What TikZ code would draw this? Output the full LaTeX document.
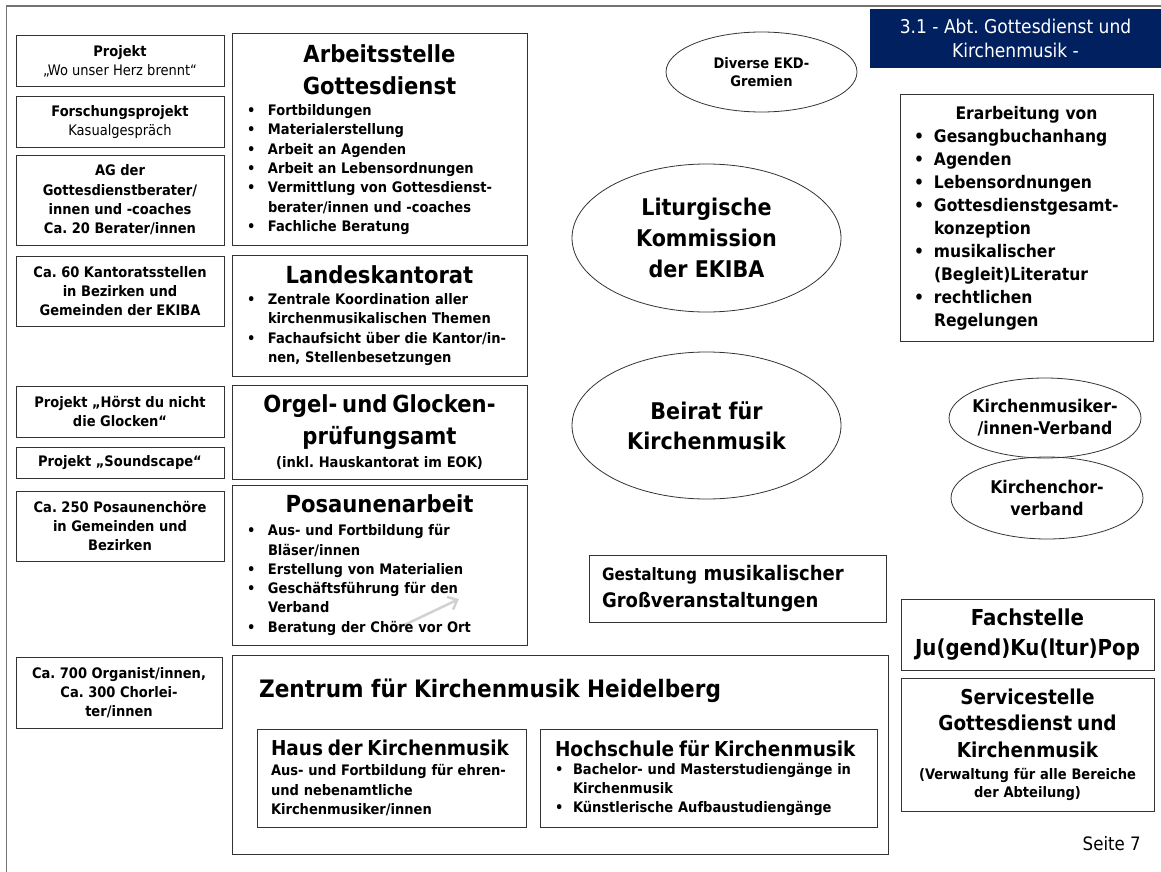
\documentclass[tikz,border=0pt]{standalone}
\usepackage{fontspec}
\setmainfont{DejaVu Sans Condensed}
\usetikzlibrary{shapes.geometric, arrows.meta}
\setlength{\parindent}{0pt}
\frenchspacing
\definecolor{abtblue}{HTML}{002060}
\newcommand{\fbody}{\fontsize{14.5}{19.3}\selectfont\bfseries}
\newcommand{\ftitle}{\fontsize{23.5}{32}\selectfont\bfseries}
\newcommand{\bl}[2][21pt]{\makebox[#1][l]{\textbullet}#2}
\newcommand{\blcont}[1][21pt]{\hspace*{#1}}
\begin{document}
\begin{tikzpicture}[x=1pt, y=-1pt]
  % Define styles
  \tikzstyle{box} = [rectangle, draw=black!80, line width=1pt, inner sep=0pt, font=\fbody, align=center]
  \tikzstyle{oval} = [ellipse, draw=black!80, line width=0.8pt, inner sep=-8pt, align=center]
  \tikzstyle{banner} = [rectangle, fill=abtblue, text=white, inner sep=0pt, align=center, font=\fontsize{19}{24}\selectfont]
  \tikzstyle{frame} = [black!55, line width=1.5pt]
  \tikzstyle{arrow} = [black!18, line width=2.5pt, -{Straight Barb[length=8pt, width=14pt]}]

  \useasboundingbox (0,0) rectangle (1161,872);

  % Page frame
  \coordinate (frtr) at (1161,6);
  \coordinate (frtl) at (6.5,6);
  \coordinate (frbl) at (6.5,872);
  \draw[frame] (frtr) -- (frtl) -- (frbl);

  % Stray arrow
  \coordinate (arrtail) at (398,628);
  \coordinate (arrtip) at (459,599);
  \draw[arrow] (arrtail) -- (arrtip);

  % Left column: projects and groups
  \node[box, minimum width=208pt, minimum height=51pt] (wuhb) at (120,61.5) {Projekt\\\textmd{„Wo unser Herz brennt“}};
  \node[box, minimum width=208pt, minimum height=50pt] (kasual) at (120,122) {Forschungsprojekt\\\textmd{Kasualgespräch}};
  \node[box, minimum width=208pt, minimum height=90pt] (agber) at (120,200) {AG der\\Gottesdienstberater/\\innen und -coaches\\Ca. 20 Berater/innen};
  \node[box, minimum width=208pt, minimum height=70pt] (kantst) at (120,291) {Ca. 60 Kantoratsstellen\\in Bezirken und\\Gemeinden der EKIBA};
  \node[box, minimum width=208pt, minimum height=51pt] (hoerst) at (120,411.5) {Projekt „Hörst du nicht\\die Glocken“};
  \node[box, minimum width=208pt, minimum height=31pt] (sound) at (120,462.5) {Projekt „Soundscape“};
  \node[box, minimum width=208pt, minimum height=70pt] (posch) at (120,526) {Ca. 250 Posaunenchöre\\in Gemeinden und\\Bezirken};
  \node[box, minimum width=206pt, minimum height=71pt] (organ) at (119,692.5) {Ca. 700 Organist/innen,\\Ca. 300 Chorlei-\\ter/innen};

  % Middle column: offices
  \node[box, minimum width=295pt, minimum height=211pt, text width=265pt, align=left] (agd) at (379.5,139.5)
    {{\ftitle\centering Arbeitsstelle\\Gottesdienst\par}\vspace{2pt}
     \bl{Fortbildungen}\\ \bl{Materialerstellung}\\ \bl{Arbeit an Agenden}\\ \bl{Arbeit an Lebensordnungen}\\
     \bl{Vermittlung von Gottesdienst-}\\ \blcont berater/innen und -coaches\\ \bl{Fachliche Beratung}};
  \node[box, minimum width=295pt, minimum height=121pt, text width=265pt, align=left] (landes) at (379.5,315.5)
    {{\ftitle\centering Landeskantorat\par}\vspace{2pt}
     \bl{Zentrale Koordination aller}\\ \blcont kirchenmusikalischen Themen\\
     \bl{Fachaufsicht über die Kantor/in-}\\ \blcont nen, Stellenbesetzungen};
  \node[box, minimum width=295pt, minimum height=94pt, text width=265pt] (orgel) at (379.5,432)
    {{\ftitle Orgel- und Glocken-\\prüfungsamt\par}\vspace{4pt}(inkl. Hauskantorat im EOK)};
  \node[box, minimum width=295pt, minimum height=160pt, text width=265pt, align=left] (posaune) at (379.5,565)
    {{\ftitle\centering Posaunenarbeit\par}\vspace{4pt}
     \bl{Aus- und Fortbildung für}\\ \blcont Bläser/innen\\ \bl{Erstellung von Materialien}\\
     \bl{Geschäftsführung für den}\\ \blcont Verband\\ \bl{Beratung der Chöre vor Ort}};

  % Zentrum Heidelberg
  \node[box, minimum width=656pt, minimum height=199pt] (zkm) at (560,754.5) {};
  \node[anchor=base west, inner sep=0pt, font=\fontsize{24}{28}\selectfont\bfseries] (zkmtitle) at (259,697) {Zentrum für Kirchenmusik Heidelberg};
  \node[box, minimum width=269pt, minimum height=98pt, text width=241pt, align=left] (hdk) at (391.5,778)
    {{\fontsize{20.5}{26}\selectfont Haus der Kirchenmusik\par}\vspace{1pt}
     \fontsize{14.5}{19.5}\selectfont Aus- und Fortbildung für ehren-\\und nebenamtliche\\Kirchenmusiker/innen};
  \node[box, minimum width=337pt, minimum height=98pt, text width=307pt, align=left] (hfk) at (708.5,778)
    {{\fontsize{20.5}{26}\selectfont Hochschule für Kirchenmusik\par}
     \fontsize{14.5}{18.5}\selectfont \bl[18pt]{Bachelor- und Masterstudiengänge in}\\ \blcont[18pt]Kirchenmusik\\
     \bl[18pt]{Künstlerische Aufbaustudiengänge}};

  % Committees
  \node[oval, minimum width=191pt, minimum height=80pt, font=\fontsize{14.5}{18.5}\selectfont\bfseries] (ekd) at (761.5,72) {Diverse EKD-\\Gremien};
  \node[oval, minimum width=269pt, minimum height=148pt, font=\fontsize{23}{31}\selectfont\bfseries] (litko) at (706.5,238) {Liturgische\\Kommission\\der EKIBA};
  \node[oval, minimum width=269pt, minimum height=147pt, font=\fontsize{23}{30}\selectfont\bfseries] (beirat) at (706.5,425.5) {Beirat für\\Kirchenmusik};
  \node[oval, minimum width=192pt, minimum height=80pt, font=\fontsize{17.5}{22}\selectfont\bfseries] (kmv) at (1045,418) {Kirchenmusiker-\\/innen-Verband};
  \node[oval, minimum width=192pt, minimum height=82pt, font=\fontsize{17.5}{22}\selectfont\bfseries] (kcv) at (1047,498) {Kirchenchor-\\verband};

  % Right column
  \node[banner, minimum width=291pt, minimum height=59pt] (abt) at (1015.5,38.5) {3.1 - Abt. Gottesdienst und\\Kirchenmusik -};
  \node[box, minimum width=253pt, minimum height=246pt, text width=225pt, align=left, font=\fontsize{17.3}{23}\selectfont\bfseries] (erb) at (1026.5,218)
    {{\centering Erarbeitung von\par}
     \bl[20pt]{Gesangbuchanhang}\\ \bl[20pt]{Agenden}\\ \bl[20pt]{Lebensordnungen}\\
     \bl[20pt]{Gottesdienstgesamt-}\\ \blcont[20pt]konzeption\\ \bl[20pt]{musikalischer}\\
     \blcont[20pt](Begleit)Literatur\\ \bl[20pt]{rechtlichen}\\ \blcont[20pt]Regelungen};
  \node[box, minimum width=297pt, minimum height=67pt, text width=271pt, align=left, font=\fontsize{20}{27}\selectfont\bfseries] (gmg) at (737.5,588.5)
    {{\fontsize{17}{27}\selectfont Gestaltung} musikalischer\\Großveranstaltungen};
  \node[box, minimum width=253pt, minimum height=71pt, font=\fontsize{22}{30}\selectfont\bfseries] (jkp) at (1027.5,634.5) {Fachstelle\\Ju(gend)Ku(ltur)Pop};
  \node[box, minimum width=253pt, minimum height=133pt, text width=245pt] (sgk) at (1027.5,744.5)
    {{\fontsize{20.5}{26.5}\selectfont Servicestelle\\Gottesdienst und\\Kirchenmusik\par}\vspace{4pt}
     {\fontsize{14.5}{18}\selectfont (Verwaltung für alle Bereiche\\der Abteilung)\par}};

  % Page number
  \node[anchor=base east, inner sep=0pt, font=\fontsize{18.5}{22}\selectfont] (page) at (1141,850) {Seite 7};
\end{tikzpicture}
\end{document}
